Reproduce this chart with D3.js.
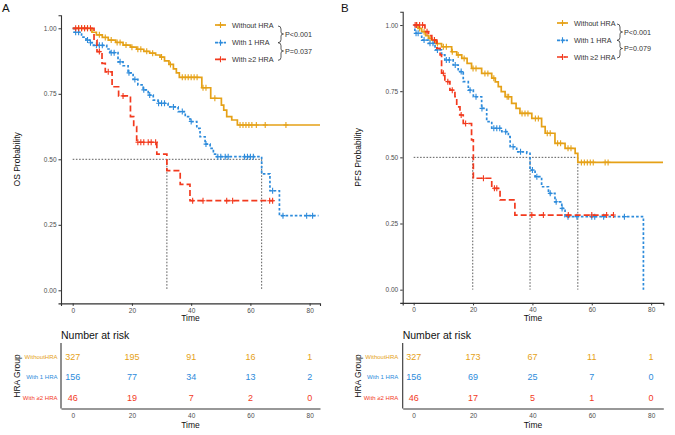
<!DOCTYPE html>
<html>
<head>
<meta charset="utf-8">
<script src="https://cdn.jsdelivr.net/npm/d3@7"></script>
<style>
body{margin:0;background:#fff;}
svg{display:block;font-family:"Liberation Sans",Arial,sans-serif;}
</style>
</head>
<body>
<svg id="chart" width="675" height="435"></svg>
<script>
// ---------- data ----------
const timeTicks = [0, 20, 40, 60, 80];
const probTicks = [0, 0.25, 0.5, 0.75, 1];
const groupNames = ["Without HRA", "With 1 HRA", "With \u22652 HRA"];
const tableNames = ["WithoutHRA", "With 1 HRA", "With \u22652 HRA"];
const groupColors = ["#E5A117", "#2D8BDB", "#F23A1E"];

// OS (panel A): steps [time, survival], last time, censor times
const osWithout = [[0,1],[6.5,0.985],[8,0.975],[10,0.965],[12,0.955],[14.5,0.946],[17,0.936],[19.5,0.928],[21.6,0.92],[24,0.912],[26,0.905],[28,0.898],[29.5,0.89],[31,0.876],[32.5,0.862],[34,0.845],[35,0.83],[36,0.813],[43.6,0.773],[46.6,0.733],[50.2,0.707],[51,0.688],[52,0.663],[53.7,0.65],[55.6,0.631]];
const osWithoutEnd = 83.5;
const osWithoutCens = [2,3,4,5,9,11,13,15,16,18,20,22,23,25,27,30,33,37,38,39,40,41,42,44,45,48,56.5,57.5,58.5,59.5,60.5,62,65,72];
const os1 = [[0,1],[0.5,0.985],[3,0.966],[4.5,0.955],[5.8,0.945],[7,0.935],[11.5,0.921],[12.6,0.907],[15.3,0.872],[17,0.857],[18.7,0.83],[20.4,0.805],[22,0.784],[23.8,0.765],[25.5,0.745],[27.2,0.726],[28.8,0.714],[32.2,0.70],[35.6,0.682],[38,0.663],[39.6,0.644],[41.9,0.618],[43,0.586],[44.7,0.558],[46.4,0.542],[47.5,0.52],[48.6,0.51],[63.8,0.444],[66.6,0.38],[69.8,0.285]];
const os1End = 83;
const os1Cens = [1,2,5,6,8,9,10,13,14,16,19,21,24,26,29,30,31,34,37,40,45,49,50,51.5,52.5,58,59,60,61,67.5,71,79,81];
const os2 = [[0,1],[7.2,0.955],[8.2,0.911],[9.9,0.866],[11,0.834],[13.3,0.777],[15.5,0.742],[19.5,0.663],[20.6,0.625],[21.6,0.565],[28.4,0.52],[31.8,0.457],[36.3,0.404],[39.6,0.342]];
const os2End = 67.8;
const os2Cens = [1,2,3,4,5,6,9,12,17,22,23,24,25.5,26.5,28,40.5,44,52,54,66.5,67.5];
const osMedians = [31.8, 63.8];
const osPvals = ["P<0.001", "P=0.037"];
const osRisk = [[327,195,91,16,1],[156,77,34,13,2],[46,19,7,2,0]];

// PFS (panel B)
const pfsWithout = [[0,1],[1.5,0.987],[2.7,0.975],[4,0.96],[5,0.95],[6.1,0.943],[7.5,0.93],[9.4,0.918],[12.8,0.899],[14.5,0.887],[16.2,0.874],[18,0.855],[19.5,0.836],[22.9,0.817],[26.3,0.799],[27.5,0.785],[28.5,0.767],[29.5,0.748],[30.8,0.729],[33,0.704],[34.5,0.685],[35.8,0.666],[39.8,0.647],[43.1,0.616],[44.3,0.591],[47.6,0.553],[51,0.534],[54.4,0.515],[55.3,0.481]];
const pfsWithoutEnd = 84;
const pfsWithoutCens = [1,2,3.5,5.5,7,8,10,11,13,15,17,20,21,24,25,27,31.5,32,36.5,37.5,38.5,41,42,45,46,48.5,49.5,52,53,56.5,57.5,58.5,59.5,60.5,64.5,65.5];
const pfs1 = [[0,1],[0.4,0.969],[2.7,0.943],[4.9,0.931],[7.2,0.906],[9.4,0.887],[10.5,0.868],[13.3,0.849],[15,0.824],[16.7,0.786],[18.4,0.754],[20.1,0.729],[22.9,0.685],[24.6,0.635],[26.3,0.61],[29.7,0.597],[31.9,0.578],[32.5,0.54],[34.7,0.521],[38.1,0.515],[39.2,0.452],[40.9,0.427],[43.1,0.389],[45.4,0.364],[47.6,0.332],[49.9,0.307],[51,0.276],[77.4,0]];
const pfs1End = 77.4;
const pfs1Cens = [0.8,1.5,3.5,5.5,6.5,8,11,12,14,16,19,21,23,27,28,29,31,33.5,36,40,41.5,46,48,50,52,55,60,61,64,71];
const pfs2 = [[0,1],[3.8,0.975],[5,0.96],[6.1,0.943],[7.8,0.912],[8.9,0.887],[9.4,0.818],[10.5,0.786],[12.2,0.754],[13.9,0.729],[14.5,0.691],[15.6,0.66],[16.7,0.628],[19.5,0.566],[20.1,0.421],[26.3,0.383],[29.1,0.339],[34.1,0.282]];
const pfs2End = 67.3;
const pfs2Cens = [0.5,1,2,3,4.5,7,10,11.5,13,16,17.5,23.5,27.2,28,39.8,43.7,52.1,60,65,67.3];
const pfsMedians = [19.9, 39.2, 55.3];
const pfsPvals = ["P<0.001", "P=0.079"];
const pfsRisk = [[327,173,67,11,1],[156,69,25,7,0],[46,17,5,1,0]];

// ---------- drawing ----------
const svg = d3.select("#chart");
const dashes = [null, "2.6,2", "6,3"];
const tickCol = "#4d4d4d";

function survAt(steps, t){ let s = steps[0][1]; for(const p of steps){ if(p[0] <= t) s = p[1]; } return s; }

function drawPanel(cfg){
  const g = svg.append("g");
  const x = d3.scaleLinear().domain([cfg.xMin, cfg.xMax]).range([cfg.left, cfg.right]);
  const y = d3.scaleLinear().domain([-0.05, 1.05]).range([cfg.bottom, cfg.top]);

  // panel letter
  g.append("text").attr("x", cfg.letterX).attr("y", 12).attr("font-size", 11.5).attr("fill", "#111").text(cfg.letter);

  // axes
  const xa = g.append("g").attr("transform", `translate(0,${cfg.bottom})`)
    .call(d3.axisBottom(x).tickValues(timeTicks).tickSize(2.5).tickPadding(2).tickFormat(d3.format("d")));
  const ya = g.append("g").attr("transform", `translate(${cfg.left},0)`)
    .call(d3.axisLeft(y).tickValues(probTicks).tickSize(2.5).tickPadding(2).tickFormat(d3.format(".2f")));
  [xa, ya].forEach(a => {
    a.select(".domain").attr("stroke", "#333").attr("stroke-width", 1.1);
    a.selectAll(".tick line").attr("stroke", "#333");
    a.selectAll(".tick text").attr("font-size", 6.5).attr("fill", tickCol).attr("font-family", "Liberation Sans, Arial");
  });
  g.append("text").attr("x", (cfg.left + cfg.right)/2).attr("y", 321).attr("text-anchor", "middle")
    .attr("font-size", 8.5).attr("fill", "#111").text("Time");
  g.append("text").attr("transform", `translate(${cfg.ylabX},${(cfg.top+cfg.bottom)/2}) rotate(-90)`)
    .attr("text-anchor", "middle").attr("font-size", 8.5).attr("fill", "#111").text(cfg.ylab);

  // median reference lines
  const medMax = d3.max(cfg.medians);
  g.append("line").attr("x1", x(0)).attr("x2", x(medMax)).attr("y1", y(0.5)).attr("y2", y(0.5))
    .attr("stroke", "#333").attr("stroke-width", 0.8).attr("stroke-dasharray", "1.6,1.6");
  cfg.medians.forEach(m => {
    g.append("line").attr("x1", x(m)).attr("x2", x(m)).attr("y1", y(0.5)).attr("y2", y(0))
      .attr("stroke", "#333").attr("stroke-width", 0.8).attr("stroke-dasharray", "1.6,1.6");
  });

  // curves (draw in order gold, blue, red)
  const line = d3.line().x(d => x(d[0])).y(d => y(d[1])).curve(d3.curveStepAfter);
  cfg.series.forEach((s, i) => {
    const pts = s.steps.concat([[s.end, s.steps[s.steps.length-1][1]]]);
    g.append("path").attr("d", line(pts)).attr("fill", "none").attr("stroke", groupColors[i])
      .attr("stroke-width", 1.7).attr("stroke-dasharray", dashes[i]);
    const cg = g.append("g").attr("stroke", groupColors[i]).attr("stroke-width", 1.1);
    s.cens.forEach(t => {
      const cx = x(t), cy = y(survAt(s.steps, t));
      cg.append("path").attr("d", `M${cx-2.4},${cy}H${cx+2.4}M${cx},${cy-3}V${cy+3}`);
    });
  });

  // legend
  const lg = g.append("g");
  cfg.legendY.forEach((ly, i) => {
    lg.append("line").attr("x1", cfg.legX).attr("x2", cfg.legX + 11).attr("y1", ly).attr("y2", ly)
      .attr("stroke", groupColors[i]).attr("stroke-width", 1.7).attr("stroke-dasharray", i === 2 ? "5,2" : (i === 1 ? "3,1.5" : null));
    lg.append("path").attr("d", `M${cfg.legX+3.5},${ly}H${cfg.legX+8.5}M${cfg.legX+5.5},${ly-3}V${ly+3}`)
      .attr("stroke", groupColors[i]).attr("stroke-width", 1.1);
    lg.append("text").attr("x", cfg.legX + 17).attr("y", ly).attr("dy", "0.35em")
      .attr("font-size", 7.2).attr("fill", "#333").text(groupNames[i]);
  });
  // braces
  function brace(x0, y1, y2, tip){
    const w = 3;
    return `M${x0},${y1} Q${x0+w},${y1} ${x0+w},${y1+3} L${x0+w},${tip-2} Q${x0+w},${tip} ${x0+w+2.5},${tip} Q${x0+w},${tip} ${x0+w},${tip+2} L${x0+w},${y2-3} Q${x0+w},${y2} ${x0},${y2}`;
  }
  const b0 = cfg.legendY[0]+1, b1 = cfg.legendY[1], b2 = cfg.legendY[2]+1;
  lg.append("path").attr("d", brace(cfg.braceX, b0, b1, cfg.pY[0])).attr("fill", "none").attr("stroke", "#333").attr("stroke-width", 0.8);
  lg.append("path").attr("d", brace(cfg.braceX, b1, b2, cfg.pY[1])).attr("fill", "none").attr("stroke", "#333").attr("stroke-width", 0.8);
  cfg.pvals.forEach((p, i) => {
    lg.append("text").attr("x", cfg.braceX + 7).attr("y", cfg.pY[i]).attr("dy", "0.35em")
      .attr("font-size", 7.2).attr("fill", "#333").text(p);
  });

  // risk table
  const rt = g.append("g");
  const rowY = d3.scalePoint().domain(tableNames).range([356.7, 397.7]);
  rt.append("text").attr("x", cfg.left).attr("y", 338.5).attr("font-size", 10.5).attr("fill", "#111").text("Number at risk");
  rt.append("line").attr("x1", cfg.left).attr("x2", cfg.left).attr("y1", 343).attr("y2", 408.5).attr("stroke", "#333").attr("stroke-width", 1.1);
  const ta = rt.append("g").attr("transform", "translate(0,408.5)")
    .call(d3.axisBottom(x).tickValues(timeTicks).tickSize(0).tickPadding(5).tickFormat(d3.format("d")));
  ta.select(".domain").attr("stroke", "#333").attr("stroke-width", 1.1);
  ta.selectAll(".tick text").attr("font-size", 6.5).attr("fill", tickCol).attr("font-family", "Liberation Sans, Arial");
  rt.append("text").attr("x", (cfg.left + cfg.right)/2).attr("y", 427.5).attr("text-anchor", "middle")
    .attr("font-size", 8.5).attr("fill", "#111").text("Time");
  rt.append("text").attr("transform", `translate(${cfg.ylabX},376) rotate(-90)`)
    .attr("text-anchor", "middle").attr("font-size", 8.5).attr("fill", "#111").text("HRA Group");
  tableNames.forEach((nm, i) => {
    rt.append("text").attr("x", cfg.rowLabX).attr("y", rowY(nm)).attr("dy", "0.35em").attr("text-anchor", "end")
      .attr("font-size", 6).attr("fill", groupColors[i]).text(nm);
    cfg.risk[i].forEach((v, j) => {
      rt.append("text").attr("x", x(timeTicks[j])).attr("y", rowY(nm)).attr("dy", "0.35em").attr("text-anchor", "middle")
        .attr("font-size", 9).attr("fill", groupColors[i]).text(v);
    });
  });
}

drawPanel({
  letter: "A", letterX: 2,
  xMin: -3.95, xMax: 83.5, left: 61, right: 320, top: 15.2, bottom: 303.4,
  ylab: "OS Probability", ylabX: 20,
  medians: osMedians, pvals: osPvals, risk: osRisk,
  series: [
    {steps: osWithout, end: osWithoutEnd, cens: osWithoutCens},
    {steps: os1, end: os1End, cens: os1Cens},
    {steps: os2, end: os2End, cens: os2Cens}
  ],
  legX: 215, legendY: [25, 42.7, 59.3], braceX: 278, pY: [34, 51],
  rowLabX: 57.5
});
drawPanel({
  letter: "B", letterX: 341,
  xMin: -3.7, xMax: 84.1, left: 402.7, right: 663.3, top: 11.8, bottom: 302.9,
  ylab: "PFS Probability", ylabX: 361,
  medians: pfsMedians, pvals: pfsPvals, risk: pfsRisk,
  series: [
    {steps: pfsWithout, end: pfsWithoutEnd, cens: pfsWithoutCens},
    {steps: pfs1, end: pfs1End, cens: pfs1Cens},
    {steps: pfs2, end: pfs2End, cens: pfs2Cens}
  ],
  legX: 557, legendY: [23, 40.3, 57], braceX: 617, pY: [32, 48.5],
  rowLabX: 398.3
});
</script>
</body>
</html>
